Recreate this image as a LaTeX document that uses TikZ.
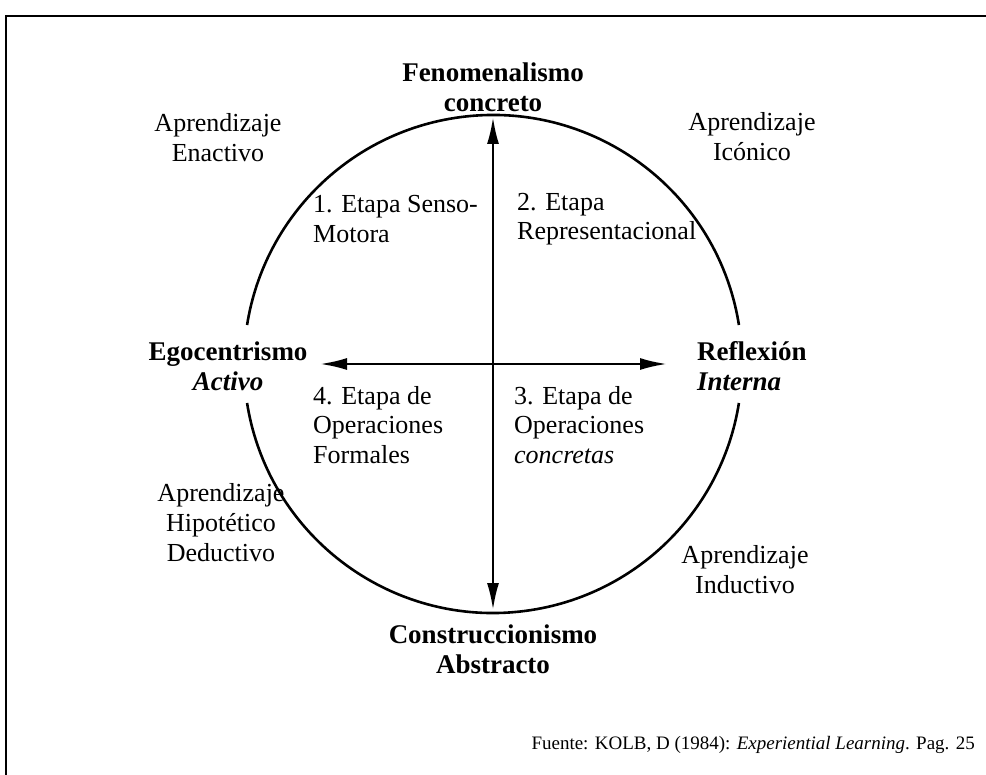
\documentclass[tikz,border=0pt]{standalone}
\usepackage{fontspec}
\setmainfont{Liberation Serif}
\usetikzlibrary{arrows.meta}
\begin{document}
\begin{tikzpicture}[x=1pt,y=-1pt,
  lbl/.style={inner sep=0pt,align=center,font=\fontsize{26}{30}\selectfont},
  lbll/.style={inner sep=0pt,align=left,anchor=west,font=\fontsize{26}{29.5}\selectfont},
  pole/.style={inner sep=0pt,align=center,font=\fontsize{27}{30}\selectfont\bfseries},
  ring/.style={line width=2.6pt},
  axis/.style={line width=2.5pt,{Latex[length=27pt,width=12pt]}-{Latex[length=27pt,width=12pt]}},
  frame/.style={line width=2.5pt}]
\useasboundingbox (0,0) rectangle (986,775);
% frame
\coordinate (F1) at (6,775);
\coordinate (F2) at (6,16);
\coordinate (F3) at (986,16);
\draw[frame] (F1) -- (F2) -- (F3);
% circle
\coordinate (C) at (493,364);
\draw[ring] ([shift={(9:249pt)}]C) arc[start angle=9,end angle=171,radius=249pt];
\draw[ring] ([shift={(189:249pt)}]C) arc[start angle=189,end angle=351,radius=249pt];
% axes
\coordinate (T) at (493,117);
\coordinate (B) at (493,610);
\coordinate (L) at (320,364);
\coordinate (R) at (667,364);
\draw[axis] (T) -- (B);
\draw[axis] (L) -- (R);
% poles
\node[pole] (fen) at (493,87) {Fenomenalismo\\concreto};
\node[pole] (con) at (493,649) {Construccionismo\\Abstracto};
\node[pole] (ego) at (228,366) {Egocentrismo\\\textit{Activo}};
\node[pole,align=left,anchor=west] (ref) at (697,366) {Reflexión\\\textit{Interna}};
% learning
\node[lbl] (enac) at (218,138) {Aprendizaje\\Enactivo};
\node[lbl] (icon) at (752,137) {Aprendizaje\\Icónico};
\node[lbl] (hip) at (221,523) {Aprendizaje\\Hipotético\\Deductivo};
\node[lbl] (ind) at (745,570) {Aprendizaje\\Inductivo};
% stages
\node[lbll] (e1) at (313,219) {1. Etapa Senso-\\Motora};
\node[lbll] (e2) at (517,219) {2. Etapa\\Representacional};
\node[lbll] (e4) at (313,425) {4. Etapa de\\Operaciones\\Formales};
\node[lbll] (e3) at (514,425) {3. Etapa de\\Operaciones\\\textit{concretas}};
% source
\node[inner sep=0pt,anchor=east,font=\fontsize{19}{22}\selectfont] (src) at (975,745) {Fuente: KOLB, D (1984): \textit{Experiential Learning}. Pag. 25};
\end{tikzpicture}
\end{document}
